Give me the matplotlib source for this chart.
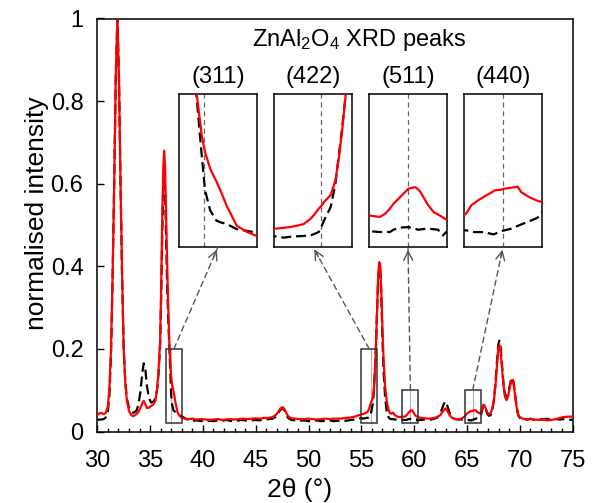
import matplotlib
matplotlib.use("Agg")
import matplotlib.pyplot as plt
from matplotlib.patches import Rectangle, ConnectionPatch, FancyArrowPatch
from matplotlib.ticker import MultipleLocator, FormatStrFormatter

plt.rcParams['font.family'] = ['Liberation Sans', 'DejaVu Sans']
plt.rcParams['mathtext.default'] = 'regular'

# 2theta grid (deg) shared by both patterns
two_theta = [
    30.0, 30.2, 30.4, 30.6, 30.8, 31.0, 31.15, 31.3, 31.45, 31.6,
    31.75, 31.9, 32.05, 32.2, 32.35, 32.5, 32.65, 32.8, 33.0, 33.2,
    33.4, 33.7, 33.9, 34.1, 34.25, 34.4, 34.55, 34.7, 34.9, 35.1,
    35.3, 35.5, 35.65, 35.8, 35.95, 36.05, 36.15, 36.25, 36.33, 36.42,
    36.52, 36.62, 36.72, 36.84, 36.94, 37.0, 37.1, 37.22, 37.3, 37.42,
    37.61, 37.8, 37.99, 38.3, 38.6, 39.0, 39.4, 39.8, 40.2, 40.6,
    41.0, 41.4, 41.8, 42.2, 42.6, 43.0, 43.4, 43.8, 44.2, 44.6,
    45.0, 45.4, 45.8, 46.2, 46.6, 46.9, 47.15, 47.35, 47.55, 47.7,
    47.9, 48.1, 48.4, 48.8, 49.2, 49.6, 50.0, 50.4, 50.8, 51.2,
    51.6, 52.0, 52.4, 52.8, 53.2, 53.6, 54.0, 54.4, 54.7, 55.02,
    55.18, 55.31, 55.44, 55.57, 55.7, 55.76, 55.86, 55.92, 55.96, 56.09,
    56.18, 56.25, 56.31, 56.38, 56.5, 56.6, 56.7, 56.8, 56.9, 57.0,
    57.1, 57.25, 57.4, 57.55, 57.7, 57.85, 58.0, 58.15, 58.4, 58.65,
    58.9, 59.11, 59.21, 59.3, 59.37, 59.46, 59.53, 59.66, 59.79, 59.85,
    59.89, 60.02, 60.14, 60.23, 60.32, 60.39, 60.7, 61.0, 61.4, 61.8,
    62.2, 62.5, 62.75, 62.95, 63.15, 63.35, 63.6, 63.9, 64.2, 64.5,
    64.84, 64.94, 65.0, 65.07, 65.2, 65.23, 65.36, 65.39, 65.52, 65.58,
    65.71, 65.78, 65.83, 65.9, 66.06, 66.1, 66.19, 66.23, 66.32, 66.45,
    66.55, 66.65, 66.8, 66.95, 67.1, 67.25, 67.4, 67.55, 67.7, 67.85,
    67.97, 68.07, 68.17, 68.3, 68.45, 68.6, 68.75, 68.9, 69.05, 69.2,
    69.3, 69.42, 69.55, 69.7, 69.85, 70.0, 70.3, 70.7, 71.0, 71.4,
    71.8, 72.2, 72.6, 73.0, 73.4, 73.8, 74.2, 74.6, 75.0,
]

# red solid pattern
red_int = [
    0.040, 0.044, 0.045, 0.042, 0.045, 0.060, 0.110, 0.200, 0.380, 0.600,
    0.860, 1.000, 0.860, 0.600, 0.380, 0.200, 0.120, 0.075, 0.050, 0.040,
    0.037, 0.042, 0.048, 0.058, 0.068, 0.074, 0.066, 0.057, 0.058, 0.062,
    0.065, 0.075, 0.100, 0.150, 0.220, 0.350, 0.520, 0.640, 0.680, 0.640,
    0.520, 0.400, 0.300, 0.200, 0.150, 0.132, 0.112, 0.097, 0.086, 0.068,
    0.045, 0.038, 0.033, 0.031, 0.030, 0.031, 0.029, 0.030, 0.029, 0.028,
    0.029, 0.030, 0.028, 0.029, 0.030, 0.029, 0.030, 0.031, 0.030, 0.031,
    0.032, 0.031, 0.033, 0.033, 0.035, 0.040, 0.048, 0.056, 0.059, 0.055,
    0.045, 0.036, 0.032, 0.031, 0.030, 0.030, 0.031, 0.030, 0.029, 0.030,
    0.031, 0.030, 0.031, 0.031, 0.032, 0.033, 0.034, 0.036, 0.039, 0.0416,
    0.0425, 0.0435, 0.045, 0.047, 0.053, 0.057, 0.065, 0.069, 0.073, 0.081,
    0.098, 0.126, 0.157, 0.200, 0.300, 0.380, 0.410, 0.400, 0.340, 0.250,
    0.180, 0.110, 0.075, 0.055, 0.045, 0.043, 0.046, 0.040, 0.036, 0.035,
    0.0365, 0.0357, 0.0374, 0.040, 0.0426, 0.045, 0.047, 0.0505, 0.0513, 0.050,
    0.0487, 0.0426, 0.0383, 0.037, 0.0355, 0.0343, 0.033, 0.032, 0.031, 0.032,
    0.035, 0.040, 0.050, 0.056, 0.050, 0.040, 0.033, 0.030, 0.030, 0.031,
    0.0374, 0.0418, 0.043, 0.0444, 0.0465, 0.047, 0.049, 0.0496, 0.050, 0.0505,
    0.051, 0.0513, 0.0516, 0.0487, 0.046, 0.0455, 0.0444, 0.044, 0.0435, 0.055,
    0.065, 0.064, 0.055, 0.045, 0.042, 0.045, 0.055, 0.075, 0.110, 0.160,
    0.200, 0.210, 0.200, 0.160, 0.115, 0.085, 0.076, 0.085, 0.105, 0.122,
    0.125, 0.115, 0.090, 0.060, 0.042, 0.035, 0.031, 0.029, 0.030, 0.029,
    0.028, 0.029, 0.027, 0.028, 0.030, 0.033, 0.035, 0.036, 0.036,
]

# black dashed pattern
black_int = [
    0.028, 0.029, 0.029, 0.030, 0.034, 0.048, 0.090, 0.190, 0.370, 0.600,
    0.860, 1.000, 0.860, 0.600, 0.370, 0.200, 0.120, 0.080, 0.058, 0.048,
    0.045, 0.050, 0.065, 0.100, 0.140, 0.165, 0.150, 0.110, 0.080, 0.070,
    0.072, 0.080, 0.100, 0.140, 0.210, 0.330, 0.480, 0.590, 0.620, 0.580,
    0.460, 0.350, 0.270, 0.195, 0.126, 0.087, 0.063, 0.051, 0.049, 0.047,
    0.041, 0.039, 0.037, 0.032, 0.028, 0.026, 0.027, 0.025, 0.027, 0.026,
    0.025, 0.027, 0.026, 0.028, 0.026, 0.025, 0.027, 0.028, 0.026, 0.027,
    0.028, 0.027, 0.029, 0.030, 0.031, 0.036, 0.045, 0.053, 0.056, 0.052,
    0.040, 0.032, 0.028, 0.027, 0.026, 0.027, 0.025, 0.026, 0.027, 0.025,
    0.026, 0.027, 0.025, 0.026, 0.027, 0.026, 0.028, 0.029, 0.031, 0.0326,
    0.031, 0.032, 0.0326, 0.033, 0.0337, 0.035, 0.0376, 0.045, 0.051, 0.067,
    0.094, 0.130, 0.160, 0.200, 0.300, 0.370, 0.400, 0.390, 0.320, 0.230,
    0.150, 0.085, 0.050, 0.036, 0.031, 0.030, 0.030, 0.029, 0.029, 0.028,
    0.0283, 0.0278, 0.0280, 0.0278, 0.0290, 0.0300, 0.0302, 0.0304, 0.0295, 0.0290,
    0.0292, 0.0296, 0.0293, 0.0290, 0.0260, 0.0280, 0.028, 0.029, 0.028, 0.030,
    0.034, 0.045, 0.063, 0.073, 0.062, 0.045, 0.034, 0.030, 0.029, 0.029,
    0.0287, 0.0282, 0.0278, 0.0278, 0.0278, 0.0275, 0.0266, 0.0268, 0.0283, 0.0287,
    0.0296, 0.0305, 0.031, 0.0318, 0.0335, 0.034, 0.035, 0.0357, 0.0391, 0.052,
    0.062, 0.062, 0.052, 0.042, 0.038, 0.040, 0.052, 0.075, 0.115, 0.170,
    0.210, 0.220, 0.210, 0.170, 0.120, 0.090, 0.083, 0.090, 0.110, 0.128,
    0.130, 0.120, 0.092, 0.060, 0.040, 0.033, 0.030, 0.029, 0.031, 0.028,
    0.030, 0.029, 0.031, 0.029, 0.030, 0.029, 0.030, 0.029, 0.028,
]

assert len(two_theta) == len(red_int) == len(black_int)

# zoom windows and reference peak positions
zoom_labels = ['(311)', '(422)', '(511)', '(440)']
zoom_x0 = [36.5, 55.0, 58.9, 64.8]
zoom_x1 = [38.0, 56.5, 60.4, 66.3]
zoom_y0 = [0.02, 0.02, 0.02, 0.02]
zoom_y1 = [0.2, 0.2, 0.1, 0.1]
peak_pos = [36.98, 55.9, 59.65, 65.55]

W, H = 593, 503
fig = plt.figure(figsize=(W / 100, H / 100), dpi=100)
ax = fig.add_axes([97.3 / W, 1 - 431.5 / H, 475.2 / W, 413 / H])

def draw_lines(a):
    a.plot(two_theta, black_int, color='black', lw=1.6, ls=(0, (4.5, 2.2)), zorder=2)
    a.plot(two_theta, red_int, color='red', lw=1.6, zorder=3)

draw_lines(ax)
ax.set_xlim(30, 75)
ax.set_ylim(0, 1)
ax.xaxis.set_major_locator(MultipleLocator(5))
ax.xaxis.set_minor_locator(MultipleLocator(1))
ax.yaxis.set_major_locator(MultipleLocator(0.2))
ax.yaxis.set_major_formatter(FormatStrFormatter('%g'))
ax.tick_params(which='both', direction='in', top=False, right=False,
               labelsize=17, width=1)
ax.tick_params(axis='x', which='major', length=5, pad=13)
ax.tick_params(axis='x', which='minor', length=3)
ax.tick_params(axis='y', which='major', length=5, pad=10)
for s in ax.spines.values():
    s.set_linewidth(1.1)

fig.text(300 / W, 1 - 490 / H, '2θ (°)', ha='center', va='center', fontsize=19)
fig.text(37 / W, 1 - 213 / H, 'normalised intensity', ha='center', va='center',
         rotation=90, fontsize=19)
fig.text(359 / W, 1 - 40 / H, 'ZnAl$_2$O$_4$ XRD peaks', ha='center', va='center',
         fontsize=17)

inset_left = [179, 274, 369, 464]
for i in range(4):
    x0, x1, y0, y1 = zoom_x0[i], zoom_x1[i], zoom_y0[i], zoom_y1[i]
    # box on the main plot
    ax.add_patch(Rectangle((x0, y0), x1 - x0, y1 - y0, fill=False,
                           ec='#333333', lw=1.1, zorder=4))
    ax.plot([peak_pos[i], peak_pos[i]], [y0, y1], color='#b0b0b0', lw=0.8, zorder=1)

    iax = fig.add_axes([inset_left[i] / W, 1 - 247 / H, 78 / W, 153 / H])
    draw_lines(iax)
    iax.axvline(peak_pos[i], color='#666666', lw=0.9, ls=(0, (4, 3)), zorder=1)
    iax.set_xlim(x0, x1)
    iax.set_ylim(y0, y1)
    iax.set_xticks([])
    iax.set_yticks([])
    for s in iax.spines.values():
        s.set_linewidth(1.1)
    fig.text((inset_left[i] + 39) / W, 1 - 77 / H, zoom_labels[i],
             ha='center', va='center', fontsize=17)

    # dashed connector + open arrow head
    cx = (x0 + x1) / 2
    con = ConnectionPatch(xyA=(cx, y1), coordsA=ax.transData,
                          xyB=(0.5, 0), coordsB=iax.transAxes,
                          color='#555555', lw=1, ls=(0, (4, 3)), zorder=5)
    fig.add_artist(con)
    p0 = ax.transData.transform((cx, y1))
    p1 = iax.transAxes.transform((0.5, 0))
    tail = p1 - (p1 - p0) * (14 / ((p1 - p0) ** 2).sum() ** 0.5)
    fig.add_artist(FancyArrowPatch(
        posA=tuple(tail), posB=tuple(p1), transform=None,
        arrowstyle='->', mutation_scale=16, color='#555555', lw=1))

fig.savefig('out.png', dpi=100)
